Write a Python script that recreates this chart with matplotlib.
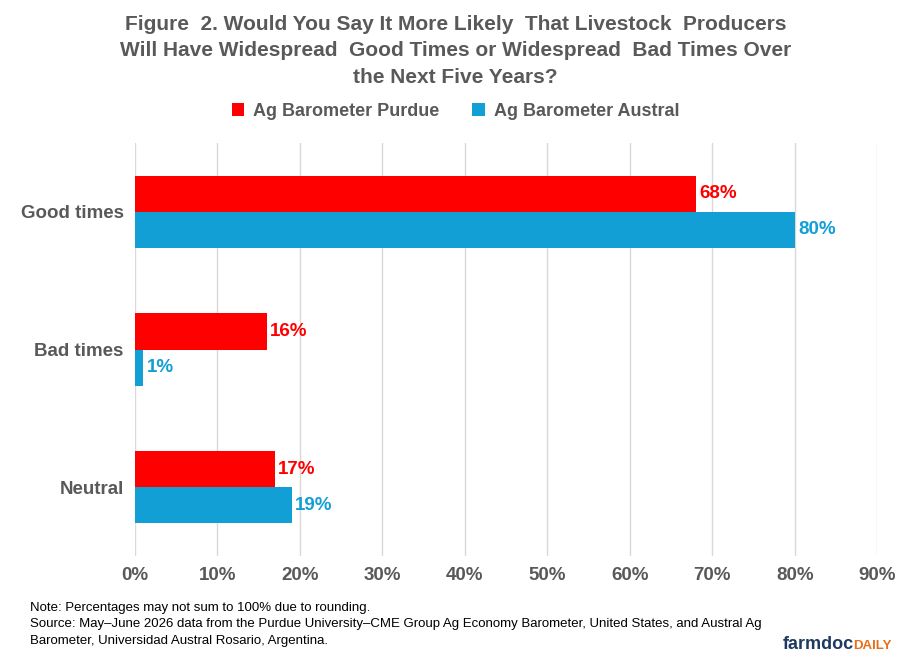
import matplotlib.pyplot as plt
import numpy as np

categories = ["Good times", "Bad times", "Neutral"]
purdue = [68, 16, 17]
austral = [80, 1, 19]
series_names = ["Ag Barometer Purdue", "Ag Barometer Austral"]

red = "#FF0000"
blue = "#129FD6"
grey = "#595959"
plt.rcParams["font.family"] = ["Liberation Sans", "DejaVu Sans"]

fig = plt.figure(figsize=(9.11, 6.62), dpi=100)
ax = fig.add_axes([0.148, 0.160, 0.815, 0.624])

y = np.arange(len(categories))
h = 0.262
b1 = ax.barh(y - h / 2, purdue, h, color=red, label=series_names[0])
b2 = ax.barh(y + h / 2, austral, h, color=blue, label=series_names[1])
for bars, vals, c in [(b1, purdue, red), (b2, austral, blue)]:
    for bar, v in zip(bars, vals):
        ax.text(v + 0.4, bar.get_y() + bar.get_height() / 2, f"{v}%",
                va="center", ha="left", color=c, fontsize=13.5, fontweight="bold")

ax.set_ylim(2.5, -0.5)
ax.set_xlim(0, 90)
ax.set_xticks(range(0, 91, 10))
ax.set_xticklabels([f"{t}%" for t in range(0, 91, 10)])
ax.set_yticks(y)
ax.set_yticklabels(categories)
ax.tick_params(length=0, labelsize=13.5, labelcolor=grey, pad=8)
for lab in ax.get_xticklabels() + ax.get_yticklabels():
    lab.set_fontweight("bold")
ax.grid(axis="x", color="#D9D9D9", linewidth=1)
ax.set_axisbelow(True)
for s in ax.spines.values():
    s.set_visible(False)

fig.text(0.5, 0.978, "Figure  2. Would You Say It More Likely  That Livestock  Producers\n"
         "Will Have Widespread  Good Times or Widespread  Bad Times Over\n"
         "the Next Five Years?", ha="center", va="top", fontsize=15,
         fontweight="bold", color=grey, linespacing=1.5)
fig.legend(handles=[b1, b2], loc="center", bbox_to_anchor=(0.5, 0.832), ncol=2,
           frameon=False, handlelength=0.7, handleheight=0.7,
           columnspacing=1.8, handletextpad=0.5, labelcolor=grey,
           prop={"weight": "bold", "size": 13})

fig.text(0.033, 0.09, "Note: Percentages may not sum to 100% due to rounding.\n"
         "Source: May–June 2026 data from the Purdue University–CME Group Ag Economy Barometer, United States, and Austral Ag\n"
         "Barometer, Universidad Austral Rosario, Argentina.",
         ha="left", va="top", fontsize=9.5, color="black", linespacing=1.45)
fig.text(0.937, 0.013, "farmdoc", ha="right", va="bottom", fontsize=13,
         fontweight="bold", color="#1F3A5F")
fig.text(0.937, 0.015, "DAILY", ha="left", va="bottom", fontsize=9.5,
         fontweight="bold", color="#E8701A")
fig.savefig("out.png", dpi=100)
